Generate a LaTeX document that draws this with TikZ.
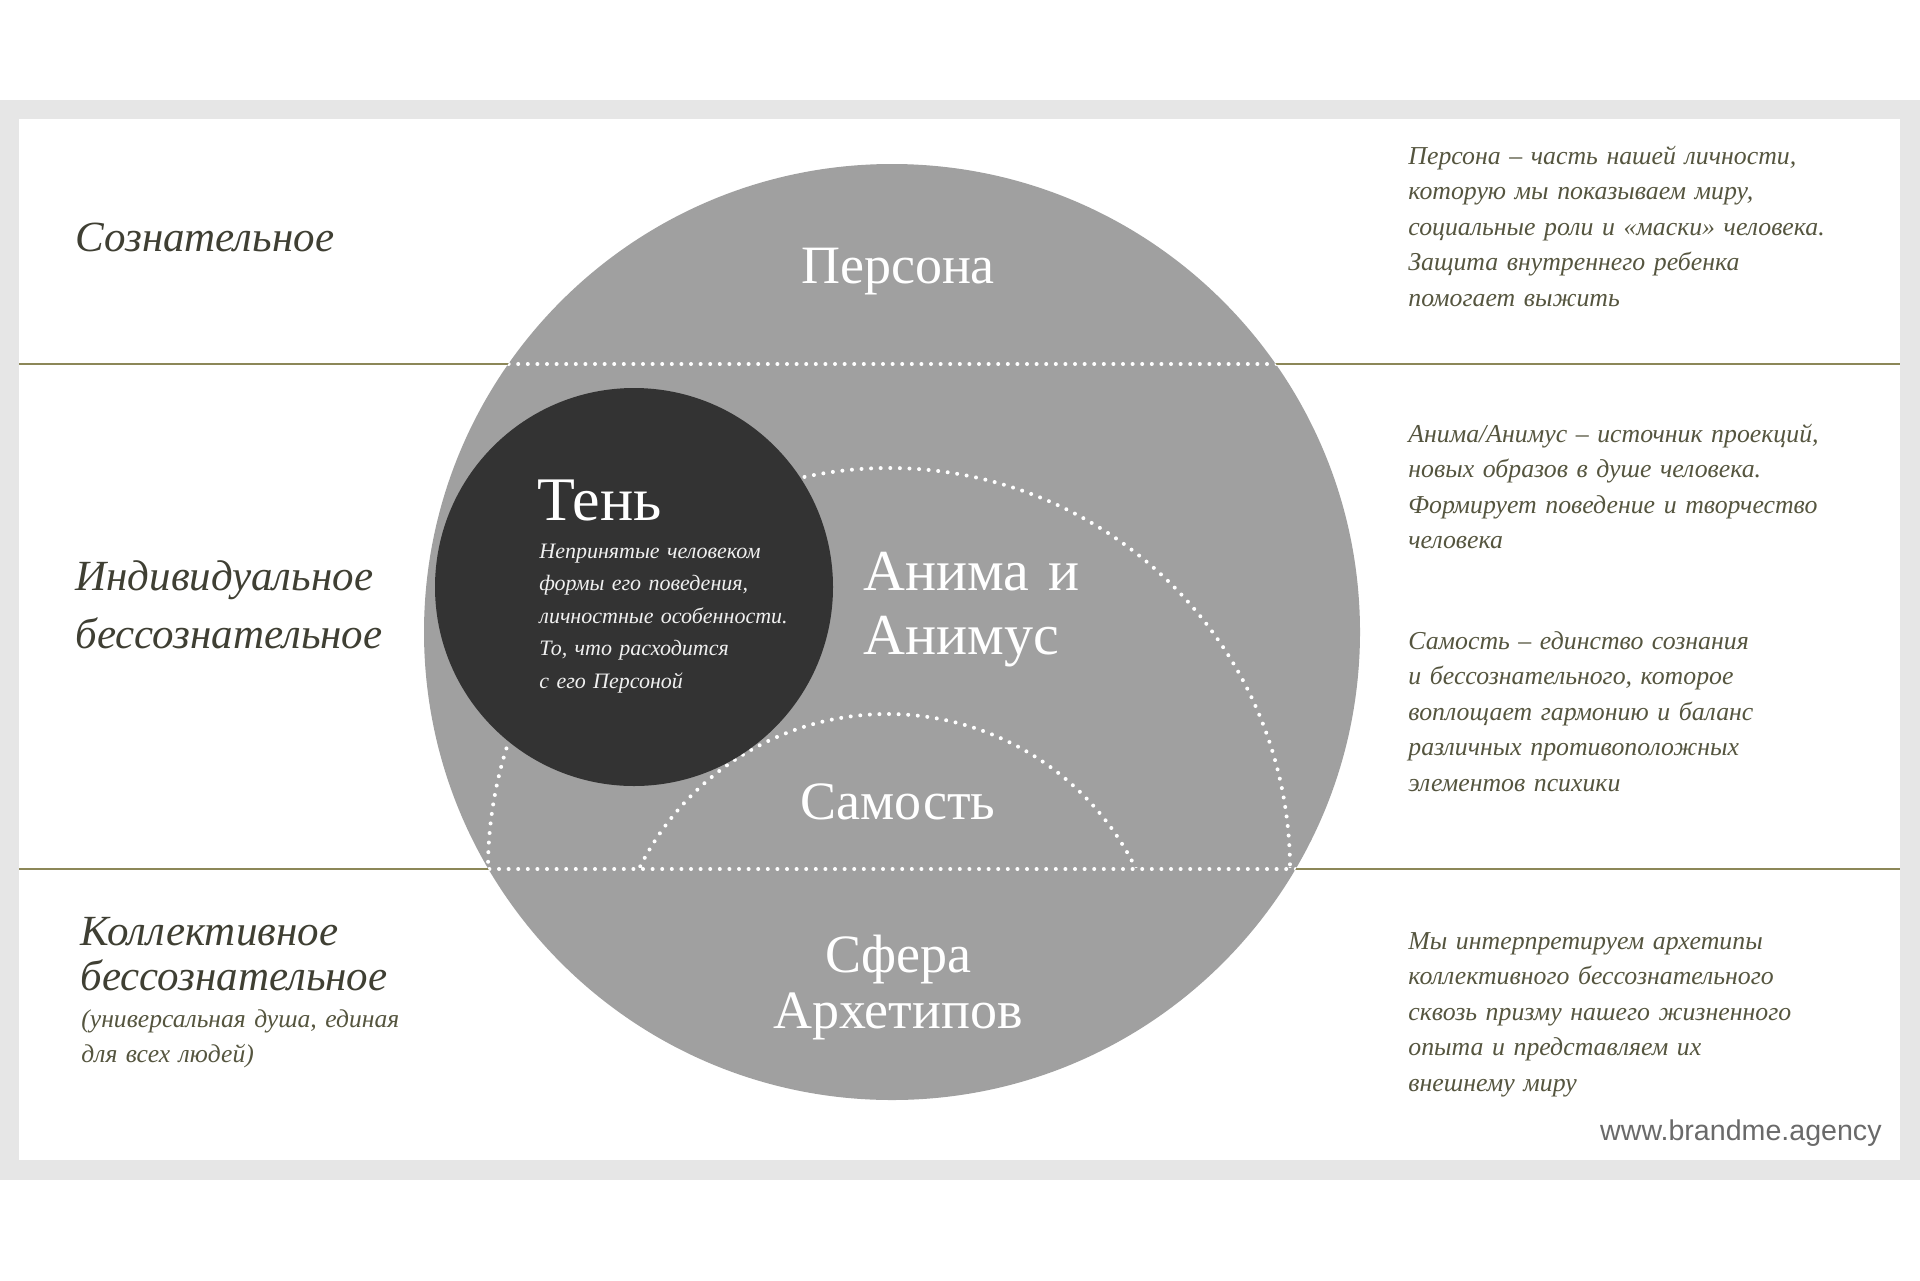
\documentclass[tikz,border=0pt]{standalone}
\usepackage{fontspec}
\setmainfont{Liberation Serif}
\setsansfont{Liberation Sans}
\definecolor{framegray}{HTML}{E6E6E6}
\definecolor{circgray}{HTML}{A0A0A0}
\definecolor{darkc}{HTML}{333333}
\definecolor{oliveline}{HTML}{8C8758}
\definecolor{labeltext}{HTML}{3F3F33}
\definecolor{desctext}{HTML}{55553F}
\definecolor{urltext}{HTML}{6A6A6A}
\tikzset{
  oline/.style={draw=oliveline, line width=1.3pt},
  dotline/.style={draw=white, line width=2pt, line cap=round, dash pattern=on 0pt off 4.8pt},
  bigw/.style={text=white, inner sep=0pt, font=\fontsize{27}{32}\selectfont},
  lefttxt/.style={text=labeltext, inner sep=0pt, anchor=base west, align=left, text width=400pt},
  righttxt/.style={text=desctext, inner sep=0pt, anchor=base west, align=left, text width=300pt,
    font=\itshape\fontsize{12.9}{17.75}\selectfont},
}
\begin{document}
\begin{tikzpicture}[x=0.5pt, y=-0.5pt]
\useasboundingbox (0,0) rectangle (1920,1280);
\fill[white] (0,0) rectangle (1920,1280);
\fill[framegray] (0,100) rectangle (1920,1180);
\fill[white] (19,119) rectangle (1900,1160);

% level lines
\coordinate (L1a) at (19,364);
\coordinate (L1b) at (1900,364);
\coordinate (L2a) at (19,869);
\coordinate (L2b) at (1900,869);
\draw[oline] (L1a) -- (L1b);
\draw[oline] (L2a) -- (L2b);

% big circle
\coordinate (C) at (892,632);
\fill[circgray] (C) circle[radius=468];
\begin{scope}
  \clip (C) circle[radius=468];
  \draw[dotline] (L1a) -- (L1b);
  \draw[dotline] (L2a) -- (L2b);
\end{scope}

% dotted arcs
\coordinate (A1) at (889,869);
\coordinate (A2) at (887.5,990.7);
\begin{scope}
  \clip (0,0) rectangle (1920,867);
  \draw[dotline] (A1) circle[radius=401];
  \draw[dotline] (A2) circle[radius=276.7];
\end{scope}

% shadow circle
\coordinate (S) at (634,587);
\fill[darkc] (S) circle[radius=199];

% circle labels
\node[bigw, anchor=base] (persona) at (898,283) {Персона};
\node[bigw, anchor=base west, align=left, text width=300pt, font=\fontsize{29}{32}\selectfont] (anima) at (863,590) {Анима и\\Анимус};
\node[bigw, anchor=base] (self) at (898,819) {Самость};
\node[bigw, anchor=base, align=center, text width=300pt, font=\fontsize{27}{28}\selectfont] (arch) at (898,972) {Сфера\\Архетипов};
\node[text=white, inner sep=0pt, anchor=base west, font=\fontsize{31}{36}\selectfont] (ten) at (537,520) {Тень};
\node[text=white!88!gray, inner sep=0pt, anchor=base west, align=left, text width=250pt,
  font=\itshape\fontsize{11}{16.3}\selectfont] (tendesc) at (539,558)
  {Непринятые человеком\\формы его поведения,\\личностные особенности.\\То, что расходится\\с его Персоной};

% left labels
\node[lefttxt, font=\itshape\fontsize{21.5}{29}\selectfont] (conscious) at (75,251) {Сознательное};
\node[lefttxt, font=\itshape\fontsize{21.5}{29}\selectfont] (individual) at (75,590) {Индивидуальное\\бессознательное};
\node[lefttxt, font=\itshape\fontsize{21.5}{22.5}\selectfont] (collective) at (80,945) {Коллективное\\бессознательное};
\node[lefttxt, text=desctext, font=\itshape\fontsize{12.8}{17.5}\selectfont] (collnote) at (81,1027) {(универсальная душа, единая\\для всех людей)};

% right descriptions
\node[righttxt] (d1) at (1408,164) {Персона – часть нашей личности,\\которую мы показываем миру,\\социальные роли и «маски» человека.\\Защита внутреннего ребенка\\помогает выжить};
\node[righttxt] (d2) at (1408,442) {Анима/Анимус – источник проекций,\\новых образов в душе человека.\\Формирует поведение и творчество\\человека};
\node[righttxt] (d3) at (1408,649) {Самость – единство сознания\\и бессознательного, которое\\воплощает гармонию и баланс\\различных противоположных\\элементов психики};
\node[righttxt] (d4) at (1408,949) {Мы интерпретируем архетипы\\коллективного бессознательного\\сквозь призму нашего жизненного\\опыта и представляем их\\внешнему миру};

\node[anchor=base east, inner sep=0pt, text=urltext, font=\sffamily\fontsize{14.3}{16}\selectfont] (url) at (1882,1140) {www.brandme.agency};
\end{tikzpicture}
\end{document}
